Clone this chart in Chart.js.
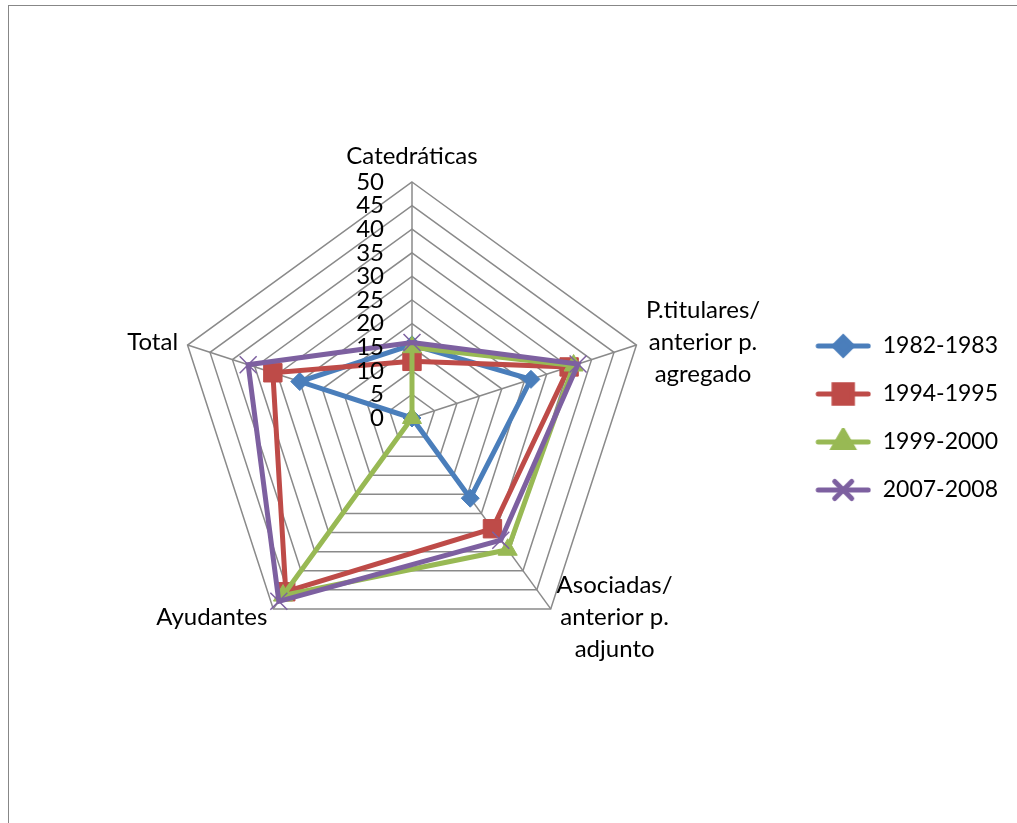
<!DOCTYPE html>
<html>
<head>
<meta charset="utf-8">
<script src="https://cdn.jsdelivr.net/npm/chart.js@4.4.0/dist/chart.umd.min.js"></script>
<style>
    html, body { margin: 0; padding: 0; background: #fff; }
    #marco { position: absolute; left: 8px; top: 5px; width: 1040px; height: 850px;
             border-left: 1.5px solid #878787; border-top: 1.5px solid #878787; }
    #caja { position: absolute; left: 0; top: 0; width: 1017px; height: 823px; }
</style>
</head>
<body>
<div id="marco"></div>
<div id="caja"><canvas id="grafico"></canvas></div>
<script>
// Datos
const categorias = ['Catedráticas', ['P.titulares/', 'anterior p.', 'agregado'], ['Asociadas/', 'anterior p.', 'adjunto'], 'Ayudantes', 'Total'];
const series = ['1982-1983', '1994-1995', '1999-2000', '2007-2008'];
const valores1982 = [15.5, 26.5, 21, 0, 25];
const valores1994 = [12, 35, 29, 45.5, 31];
const valores1999 = [15, 36, 34.5, 46.5, 0];
const valores2007 = [16, 37, 32, 48, 36.5];
const ticksEje = ['0', '5', '10', '15', '20', '25', '30', '35', '40', '45', '50'];

const colores = ['#4A7EBB', '#BE4B48', '#98B954', '#7D60A0'];
const marcas = ['rectRot', 'rect', 'triangle', 'crossRot'];
const radios = [9, 13, 11, 12];
const FUENTE = 'Lato, "Open Sans", sans-serif';
const ANCHO_ICONO = 197;

// Icono de leyenda: línea con su marcador, pegada al borde derecho del lienzo
function hacerIcono(i) {
    const c = document.createElement('canvas');
    c.width = ANCHO_ICONO; c.height = 28;
    const ctx = c.getContext('2d');
    const x0 = ANCHO_ICONO - 56;
    ctx.strokeStyle = colores[i];
    ctx.lineWidth = 5;
    ctx.lineCap = 'round';
    ctx.beginPath(); ctx.moveTo(x0 + 3, 14); ctx.lineTo(ANCHO_ICONO - 3, 14); ctx.stroke();
    ctx.fillStyle = colores[i];
    Chart.helpers.drawPoint(ctx, {
        pointStyle: marcas[i], radius: radios[i], rotation: 0,
        borderWidth: marcas[i] === 'crossRot' ? 1.5 : 1
    }, x0 + 28, 14);
    return c;
}

// Etiquetas del eje a la izquierda de la línea vertical, como en Excel
const ticksIzquierda = {
    id: 'ticksIzquierda',
    afterDraw(chart) {
        const r = chart.scales.r;
        const ctx = chart.ctx;
        ctx.save();
        ctx.font = '24px ' + FUENTE;
        ctx.fillStyle = '#000';
        ctx.textAlign = 'right';
        ctx.textBaseline = 'middle';
        ticksEje.forEach(t => {
            const d = r.getDistanceFromCenterForValue(Number(t));
            ctx.fillText(t, r.xCenter - 28, r.yCenter - d);
        });
        ctx.restore();
    }
};

// Nombres de los ejes, centrados verticalmente en cada vértice
const etiquetasEjes = {
    id: 'etiquetasEjes',
    afterDraw(chart) {
        const r = chart.scales.r;
        const ctx = chart.ctx;
        const alto = 32;
        ctx.save();
        ctx.font = '24px ' + FUENTE;
        ctx.fillStyle = '#000';
        ctx.textAlign = 'center';
        ctx.textBaseline = 'middle';
        categorias.forEach((cat, i) => {
            const lineas = Array.isArray(cat) ? cat : [cat];
            const p = r.getPointPosition(i, r.drawingArea + 10);
            const ancho = Math.max(...lineas.map(l => ctx.measureText(l).width));
            let xc = p.x;
            if (p.x > r.xCenter + 2) xc = p.x + ancho / 2;
            else if (p.x < r.xCenter - 2) xc = p.x - ancho / 2;
            let yTop = p.y - lineas.length * alto / 2;
            if (p.y < r.yCenter - r.drawingArea * 0.9) yTop = p.y - lineas.length * alto;
            lineas.forEach((l, k) => ctx.fillText(l, xc, yTop + alto * (k + 0.5)));
        });
        ctx.restore();
    }
};

const todas = [valores1982, valores1994, valores1999, valores2007];

new Chart(document.getElementById('grafico'), {
    type: 'radar',
    data: {
        labels: categorias,
        datasets: series.map((s, i) => ({
            label: s,
            data: todas[i],
            order: 3 - i,
            borderColor: colores[i],
            backgroundColor: colores[i],
            borderWidth: 5,
            fill: false,
            tension: 0,
            pointStyle: marcas[i],
            pointRadius: radios[i],
            pointBackgroundColor: colores[i],
            pointBorderColor: colores[i],
            pointBorderWidth: marcas[i] === 'crossRot' ? 1.5 : 1
        }))
    },
    options: {
        responsive: true, maintainAspectRatio: false,
        animation: false,
        layout: { padding: { left: 175, right: 9, top: 182, bottom: 169 } },
        scales: {
            r: {
                min: 0, max: 50,
                ticks: { stepSize: 5, display: false },
                grid: { color: '#8a8a8a', lineWidth: 1.5, circular: false },
                angleLines: { color: '#8a8a8a', lineWidth: 1.5 },
                pointLabels: { display: false }
            }
        },
        plugins: {
            legend: {
                position: 'right',
                labels: {
                    usePointStyle: true,
                    pointStyleWidth: ANCHO_ICONO,
                    padding: 25,
                    color: '#000',
                    font: { family: FUENTE, size: 23 },
                    generateLabels(chart) {
                        return chart.data.datasets.map((ds, i) => ({
                            text: ds.label,
                            pointStyle: hacerIcono(i),
                            fillStyle: colores[i],
                            strokeStyle: colores[i],
                            lineWidth: 0,
                            fontColor: '#000',
                            datasetIndex: i
                        }));
                    }
                }
            },
            tooltip: { enabled: false }
        }
    },
    plugins: [ticksIzquierda, etiquetasEjes]
});
</script>
</body>
</html>
